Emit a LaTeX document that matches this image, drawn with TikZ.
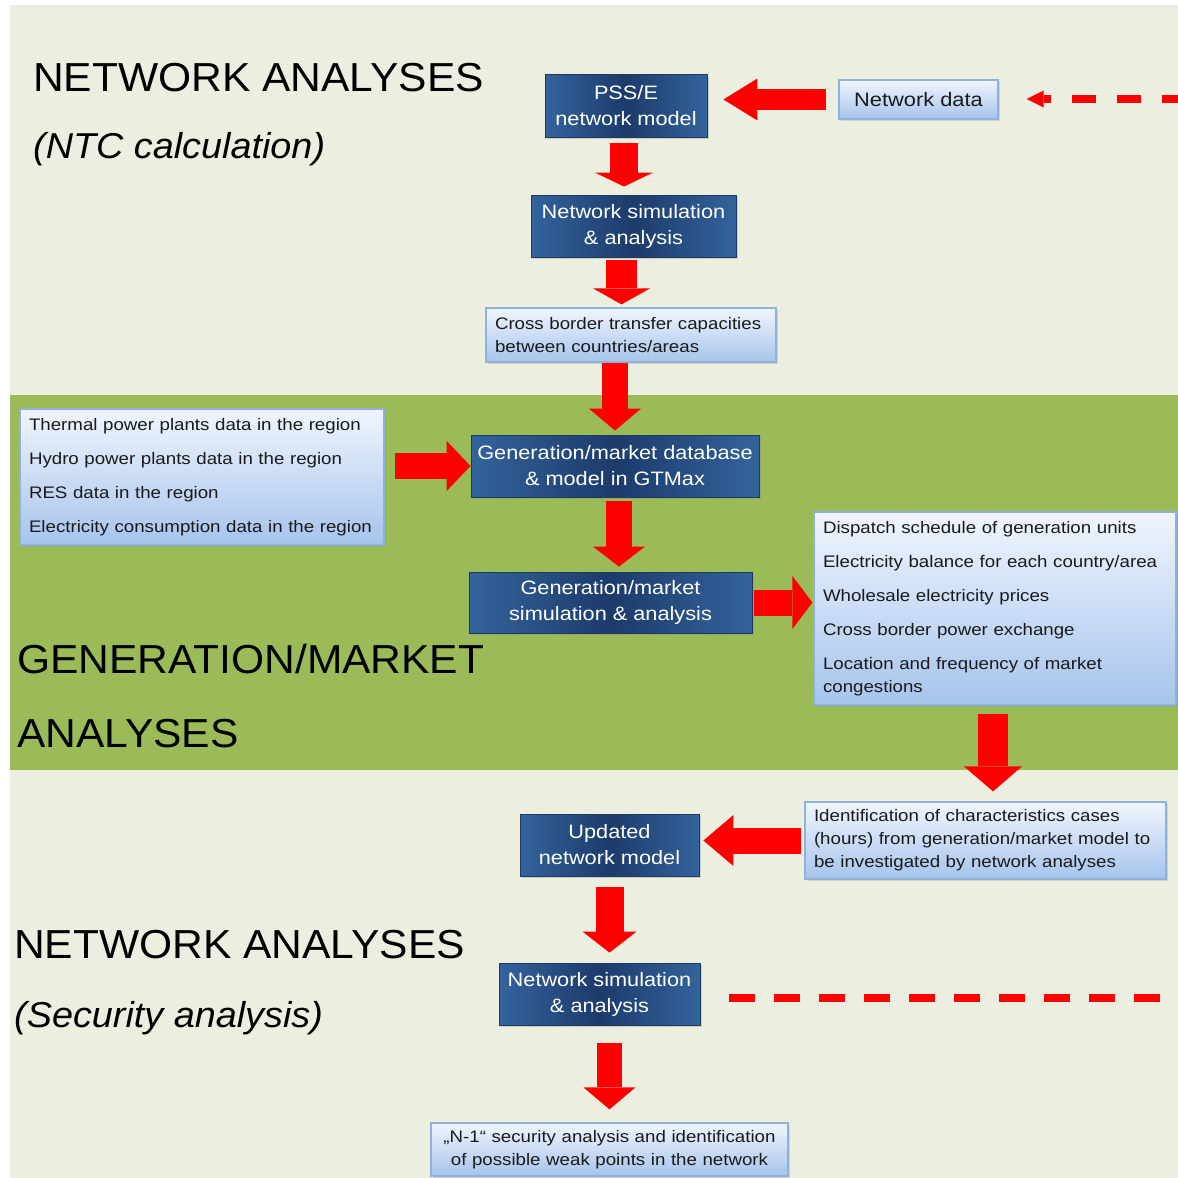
\documentclass[tikz,border=0pt]{standalone}
\usepackage{fontspec}
\setmainfont[FakeStretch=1.12]{Liberation Sans}
\newfontfamily\titlefont[FakeStretch=1.05]{Liberation Sans}
\usetikzlibrary{arrows.meta,shadows}

\definecolor{panel}{HTML}{ECEFE0}
\definecolor{band}{HTML}{9BBB59}
\definecolor{dbEdge}{HTML}{34639C}
\definecolor{dbMid}{HTML}{1C3B6B}
\definecolor{dbBorder}{HTML}{1F3A60}
\definecolor{lbTop}{HTML}{F0F5FE}
\definecolor{lbBot}{HTML}{A6C4EC}
\definecolor{lbBorder}{HTML}{8FB1DC}
\definecolor{arrowred}{HTML}{FF0000}
\definecolor{boxtext}{HTML}{1A1A1A}

\begin{document}
\begin{tikzpicture}[x=1pt,y=-1pt,
  titletext/.style={anchor=base west, inner sep=0pt, font=\titlefont\fontsize{40.5}{46}\selectfont},
  subtext/.style={anchor=base west, inner sep=0pt, font=\titlefont\fontsize{36}{40}\selectfont\itshape},
  darkbox/.style={rectangle, draw=dbBorder, line width=0.8pt,
    left color=dbEdge, right color=dbEdge, middle color=dbMid,
    text=white, align=center, inner sep=0pt,
    font=\fontsize{19.4}{26}\selectfont,
    drop shadow={opacity=0.3, shadow xshift=2pt, shadow yshift=-2pt}},
  lightbox/.style={rectangle, draw=lbBorder, line width=1.2pt,
    top color=lbTop, bottom color=lbBot, text=boxtext,
    inner xsep=9pt, inner ysep=0pt,
    font=\fontsize{16.7}{23}\selectfont,
    drop shadow={opacity=0.25, shadow xshift=2pt, shadow yshift=-2pt}},
  barrow/.style n args={3}{draw=arrowred, line width=#1,
    -{Triangle[length=#3, width=#2, line width=0pt]}},
  dashline/.style={draw=arrowred, line width=8pt}
]
\useasboundingbox (0,0) rectangle (1178,1178);
% background
\fill[white] (0,0) rectangle (1178,1178);
\fill[panel] (10,5) rectangle (1178,1178);
\fill[band] (10,395) rectangle (1178,770);

% titles
\node[titletext] (t1) at (33,91) {NETWORK ANALYSES};
\node[subtext] (t2) at (33,158) {(NTC calculation)};
\node[titletext] (t3) at (17,673) {GENERATION/MARKET};
\node[titletext] (t4) at (17,747) {ANALYSES};
\node[titletext] (t5) at (14,958) {NETWORK ANALYSES};
\node[subtext] (t6) at (14,1027) {(Security analysis)};

% boxes
\node[darkbox, minimum width=162pt, minimum height=63pt] (psse) at (626,105.5) {PSS/E\\network model};
\node[lightbox, minimum width=159pt, minimum height=39pt, inner xsep=0pt, font=\fontsize{19.5}{23}\selectfont] (nd) at (918.5,99.5) {Network data};
\node[darkbox, minimum width=205pt, minimum height=62pt] (nsim1) at (633.5,226) {Network simulation\\\& analysis};
\node[lightbox, text width=272pt, align=left, minimum height=54pt] (cross) at (631,335) {Cross border transfer capacities\\between countries/areas};
\node[lightbox, text width=346pt, align=left, minimum height=136pt] (thermal) at (202,477) {Thermal power plants data in the region\\[11pt]Hydro power plants data in the region\\[11pt]RES data in the region\\[11pt]Electricity consumption data in the region};
\node[darkbox, minimum width=288pt, minimum height=62pt] (gendb) at (615,466) {Generation/market database\\\& model in GTMax};
\node[darkbox, minimum width=283pt, minimum height=61pt] (gensim) at (610.5,602.5) {Generation/market\\simulation \& analysis};
\node[lightbox, text width=344pt, align=left, minimum height=193pt] (disp) at (995,608.5) {Dispatch schedule of generation units\\[11pt]Electricity balance for each country/area\\[11pt]Wholesale electricity prices\\[11pt]Cross border power exchange\\[11pt]Location and frequency of market\\congestions};
\node[lightbox, text width=343pt, align=left, minimum height=77pt] (ident) at (985.5,840.5) {Identification of characteristics cases\\(hours) from generation/market model to\\be investigated by network analyses};
\node[darkbox, minimum width=179pt, minimum height=62pt] (upd) at (609.5,845) {Updated\\network model};
\node[darkbox, minimum width=201pt, minimum height=62pt] (nsim2) at (599.5,994) {Network simulation\\\& analysis};
\node[lightbox, text width=339pt, align=center, minimum height=53pt] (n1) at (609.5,1149.5) {„N-1“ security analysis and identification\\of possible weak points in the network};

% block arrows
\draw[barrow={21pt}{42pt}{34pt}, shorten <=12pt, shorten >=16pt] (nd.west) -- (nd.west -| psse.east);
\draw[barrow={28pt}{58pt}{14pt}, shorten <=6pt, shorten >=8pt] ([xshift=-2pt]psse.south) -- ([xshift=-2pt]psse.south |- nsim1.north);
\draw[barrow={31pt}{57pt}{16pt}, shorten <=3pt, shorten >=3pt] ([xshift=-12pt]nsim1.south) -- ([xshift=-12pt]nsim1.south |- cross.north);
\draw[barrow={26pt}{52pt}{22pt}, shorten >=4pt] (gendb.north |- cross.south) -- (gendb.north);
\draw[barrow={26pt}{50pt}{24pt}, shorten <=10pt] (thermal.east |- gendb.west) -- (gendb.west);
\draw[barrow={26pt}{52pt}{20pt}, shorten <=4pt, shorten >=5pt] ([xshift=4pt]gendb.south) -- ([xshift=4pt]gendb.south |- gensim.north);
\draw[barrow={26pt}{53pt}{20pt}, shorten <=2pt, shorten >=1pt] (gensim.east) -- (gensim.east -| disp.west);
\draw[barrow={30pt}{58pt}{25pt}, shorten <=8pt, shorten >=10pt] ([xshift=-2pt]disp.south) -- ([xshift=-2pt]disp.south |- ident.north);
\draw[barrow={26pt}{51pt}{30pt}, shorten <=3pt, shorten >=4pt] (ident.west) -- (ident.west -| upd.east);
\draw[barrow={28pt}{54pt}{21pt}, shorten <=11pt, shorten >=10pt] (upd.south) -- (upd.south |- nsim2.north);
\draw[barrow={25pt}{52pt}{22pt}, shorten <=18pt, shorten >=13pt] (n1.north |- nsim2.south) -- (n1.north);

% dashed connectors
\coordinate (dtop) at (1178,99);
\coordinate (dbot) at (1160,998);
\draw[dashline, dash pattern=on 24pt off 21pt, dash phase=8pt, shorten >=28pt,
  -{Triangle[length=17pt, width=17pt, line width=0pt]}] (dtop) -- (dtop -| nd.east);
\draw[dashline, dash pattern=on 26pt off 18.9pt, shorten <=29pt] (nsim2.east |- dbot) -- (dbot);
\end{tikzpicture}
\end{document}
